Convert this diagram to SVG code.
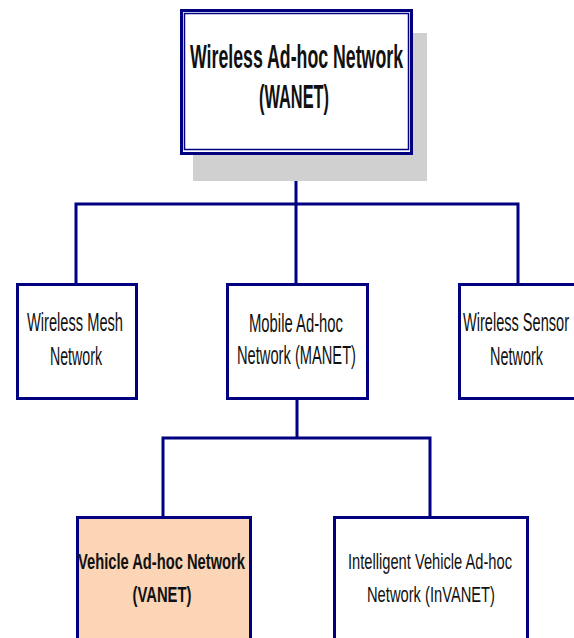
<svg xmlns="http://www.w3.org/2000/svg" width="574" height="638" viewBox="0 0 574 638">
<style>
.box{fill:#fff;stroke:#000080;stroke-width:3}
.conn{fill:none;stroke:#000080;stroke-width:3;stroke-linecap:square}
.t{font-family:"Liberation Sans",Arial,sans-serif;fill:#111;text-anchor:middle}
.top{font-size:34px;font-weight:bold}
.mid{font-size:25px}
.bot{font-size:22px}
.b{font-weight:bold}
</style>
<rect width="574" height="638" fill="#fff"/>
<g id="connectors">
<path class="conn" d="M296 155 V204 M76 204 H518 M76 204 V283 M296 204 V283 M518 204 V283"/>
<path class="conn" d="M297 399 V438 M163 438 H430 M163 438 V516 M430 438 V516"/>
</g>
<g id="wanet">
<rect x="193" y="33" width="234" height="148" fill="#d0d0d0"/>
<rect x="181.5" y="10.5" width="230" height="143" fill="#fff" stroke="#000080" stroke-width="3"/>
<rect x="184.5" y="13.5" width="224" height="136" fill="none" stroke="#000080" stroke-width="1.5"/>
<text class="t top" x="296.5" y="68" textLength="213" lengthAdjust="spacingAndGlyphs">Wireless Ad-hoc Network</text>
<text class="t top" x="294" y="108" textLength="70" lengthAdjust="spacingAndGlyphs">(WANET)</text>
</g>
<g id="mesh">
<rect class="box" x="17.5" y="284.5" width="119" height="114"/>
<text class="t mid" x="75" y="331" textLength="96" lengthAdjust="spacingAndGlyphs">Wireless Mesh</text>
<text class="t mid" x="76" y="365" textLength="52" lengthAdjust="spacingAndGlyphs">Network</text>
</g>
<g id="manet">
<rect class="box" x="227.5" y="284.5" width="140" height="114"/>
<text class="t mid" x="296" y="332" textLength="94" lengthAdjust="spacingAndGlyphs">Mobile Ad-hoc</text>
<text class="t mid" x="296.5" y="364" textLength="119" lengthAdjust="spacingAndGlyphs">Network (MANET)</text>
</g>
<g id="sensor">
<rect class="box" x="459.5" y="284.5" width="120" height="114"/>
<text class="t mid" x="516" y="331" textLength="106" lengthAdjust="spacingAndGlyphs">Wireless Sensor</text>
<text class="t mid" x="516.5" y="365" textLength="53" lengthAdjust="spacingAndGlyphs">Network</text>
</g>
<g id="vanet">
<rect class="box" x="77.5" y="517.5" width="173" height="130" style="fill:#fbd5b5"/>
<text class="t bot b" x="161.5" y="569" textLength="167" lengthAdjust="spacingAndGlyphs">Vehicle Ad-hoc Network</text>
<text class="t bot b" x="162" y="602" textLength="59" lengthAdjust="spacingAndGlyphs">(VANET)</text>
</g>
<g id="invanet">
<rect class="box" x="334.5" y="517.5" width="193" height="130"/>
<text class="t bot" x="430" y="569" textLength="164" lengthAdjust="spacingAndGlyphs">Intelligent Vehicle Ad-hoc</text>
<text class="t bot" x="431" y="602" textLength="128" lengthAdjust="spacingAndGlyphs">Network (InVANET)</text>
</g>
</svg>
